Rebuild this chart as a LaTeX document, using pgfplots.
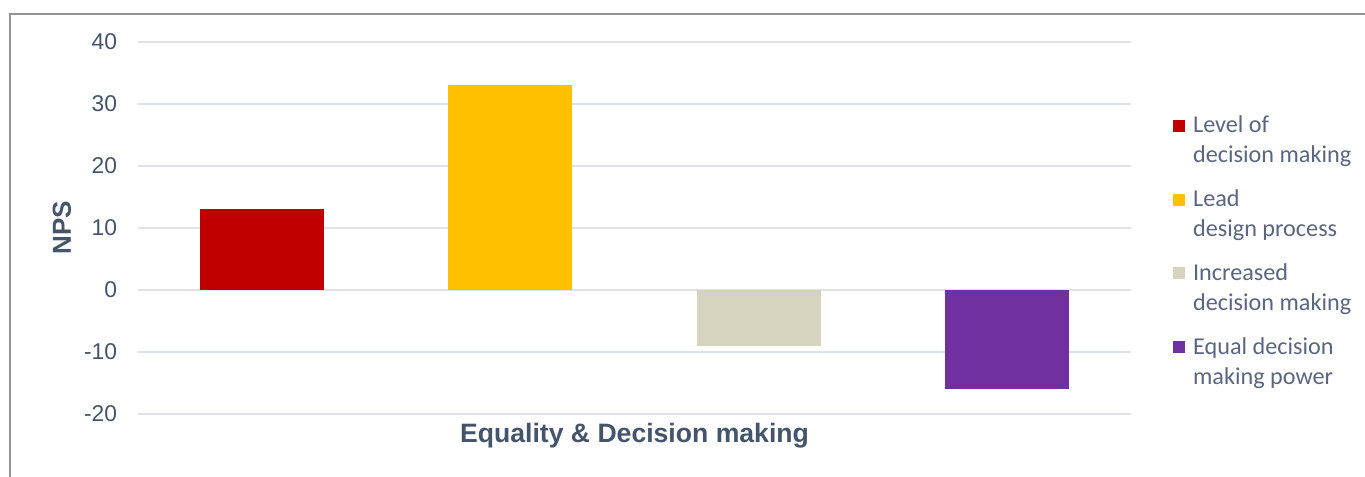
\documentclass[border=0pt]{standalone}
\usepackage{pgfplots}
\pgfplotsset{compat=1.18}
\usepackage{fontspec}
\setmainfont{Liberation Sans}
\newfontfamily\legfont{Carlito}
\definecolor{txt}{HTML}{44546A}
\definecolor{legtxt}{HTML}{5A6680}
\definecolor{gridc}{HTML}{DEE3EB}
\definecolor{cred}{HTML}{C00000}
\definecolor{cyel}{HTML}{FFC000}
\definecolor{cbeige}{HTML}{D6D4BE}
\definecolor{cpurp}{HTML}{7030A0}
\begin{document}
\begin{tikzpicture}
\useasboundingbox (0,0) rectangle (682.5bp,238.5bp);
\draw[color=gray!85, line width=1bp] (5bp,0) -- (5bp,231.5bp) -- (682.5bp,231.5bp);
\begin{axis}[
  at={(69bp,31.5bp)}, anchor=south west,
  scale only axis, width=496.5bp, height=186bp,
  xmin=-0.5, xmax=3.5, ymin=-20, ymax=40,
  ytick={-20,-10,0,10,20,30,40},
  xtick=\empty,
  axis line style={draw=none},
  major tick length=0pt,
  ymajorgrids, grid style={gridc, line width=1bp},
  yticklabel style={font=\fontsize{11.4bp}{13bp}\selectfont, text=txt, xshift=-7bp},
  /pgf/number format/assume math mode=true,
  xlabel={Equality \& Decision making},
  ylabel={NPS},
  xlabel style={at={(axis description cs:0.5,-0.059)}, anchor=center, font=\bfseries\fontsize{13.3bp}{15bp}\selectfont, text=txt},
  ylabel style={at={(axis description cs:-0.0765,0.5)}, anchor=center, font=\bfseries\fontsize{13bp}{15bp}\selectfont, text=txt},
  ybar, bar width=62bp, bar shift=0pt,
  legend style={draw=none, fill=none, at={(1.036,0.821)}, anchor=north west,
    font=\legfont\fontsize{12.1bp}{15bp}\selectfont, text=legtxt,
    nodes={align=left, inner sep=1.5bp}, row sep=9bp},
  legend cell align=left,
  legend image code/.code={\fill[#1] (0bp,4.5bp) rectangle (6bp,10.5bp); \path (8.5bp,4.5bp);},
]
\addplot[fill=cred, draw=none] coordinates {(0,13)};
\addlegendentry{Level of\\decision making}
\addplot[fill=cyel, draw=none] coordinates {(1,33)};
\addlegendentry{Lead\\design process}
\addplot[fill=cbeige, draw=none] coordinates {(2,-9)};
\addlegendentry{Increased\\decision making}
\addplot[fill=cpurp, draw=none] coordinates {(3,-16)};
\addlegendentry{Equal decision\\making power}
\end{axis}
\end{tikzpicture}
\end{document}
